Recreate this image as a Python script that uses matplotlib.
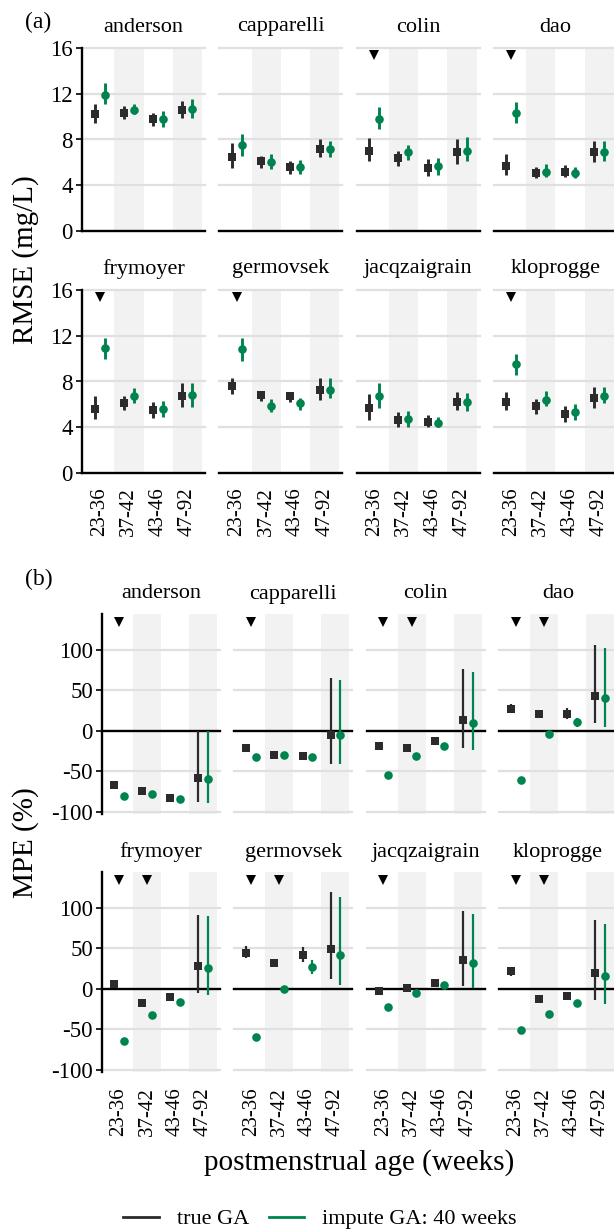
import matplotlib
matplotlib.use("Agg")
import matplotlib.pyplot as plt
from matplotlib.lines import Line2D
import numpy as np

plt.rcParams['font.family'] = ['Liberation Serif', 'DejaVu Serif']
plt.rcParams['axes.unicode_minus'] = False

# ---------------- data ----------------
models = ["anderson", "capparelli", "colin", "dao",
          "frymoyer", "germovsek", "jacqzaigrain", "kloprogge"]
age_groups = ["23-36", "37-42", "43-46", "47-92"]
series_labels = ["true GA", "impute GA: 40 weeks"]

# RMSE (mg/L) - true GA
rmse_true_est = [[10.2, 10.3, 9.8, 10.6], [6.5, 6.1, 5.6, 7.2], [7.0, 6.4, 5.5, 6.9], [5.7, 5.1, 5.2, 6.9],
                 [5.6, 6.1, 5.5, 6.7], [7.6, 6.8, 6.7, 7.3], [5.7, 4.6, 4.5, 6.2], [6.2, 5.9, 5.2, 6.6]]
rmse_true_lo = [[9.4, 9.8, 9.2, 9.9], [5.5, 5.5, 5.0, 6.5], [6.1, 5.7, 4.8, 5.9], [4.9, 4.6, 4.7, 6.0],
                [4.7, 5.5, 4.8, 5.8], [6.9, 6.3, 6.2, 6.4], [4.6, 4.0, 4.0, 5.5], [5.5, 5.2, 4.5, 5.7]]
rmse_true_hi = [[11.1, 10.9, 10.3, 11.4], [7.7, 6.6, 6.1, 8.0], [8.1, 7.0, 6.3, 8.0], [6.7, 5.6, 5.8, 7.9],
                [6.7, 6.7, 6.2, 7.9], [8.3, 7.2, 7.1, 8.3], [6.9, 5.3, 5.1, 7.1], [7.1, 6.5, 5.9, 7.5]]
# RMSE (mg/L) - impute GA
rmse_imp_est = [[11.9, 10.6, 9.8, 10.7], [7.5, 6.0, 5.6, 7.2], [9.8, 6.9, 5.7, 7.0], [10.3, 5.2, 5.1, 6.9],
                [10.9, 6.7, 5.6, 6.8], [10.8, 5.9, 6.1, 7.3], [6.7, 4.7, 4.4, 6.2], [9.5, 6.4, 5.3, 6.7]]
rmse_imp_lo = [[11.1, 10.2, 9.1, 9.9], [6.6, 5.4, 5.0, 6.5], [8.9, 6.2, 4.9, 6.1], [9.4, 4.7, 4.6, 6.1],
               [10.0, 6.1, 4.9, 5.8], [9.8, 5.3, 5.5, 6.6], [5.7, 4.0, 4.0, 5.4], [8.6, 5.9, 4.6, 6.1]]
rmse_imp_hi = [[12.9, 11.1, 10.5, 11.5], [8.5, 6.7, 6.2, 7.9], [10.8, 7.5, 6.4, 8.2], [11.3, 5.9, 5.6, 7.9],
               [11.8, 7.4, 6.3, 7.9], [11.8, 6.5, 6.6, 8.3], [7.9, 5.4, 4.9, 7.0], [10.4, 7.2, 6.0, 7.5]]
rmse_flag = [[0, 0, 0, 0], [0, 0, 0, 0], [1, 0, 0, 0], [1, 0, 0, 0],
             [1, 0, 0, 0], [1, 0, 0, 0], [0, 0, 0, 0], [1, 0, 0, 0]]

# MPE (%) - true GA
mpe_true_est = [[-66.8, -75.1, -83.3, -58.6], [-21.0, -29.7, -31.8, -5.0], [-19.0, -21.5, -13.2, 13.6],
                [27.2, 20.2, 21.0, 43.3], [5.4, -17.7, -10.3, 27.6], [44.6, 32.2, 41.3, 48.7],
                [-2.9, 0.8, 7.0, 35.0], [21.5, -12.4, -9.1, 19.4]]
mpe_true_lo = [[-69.0, -77.0, -85.0, -88.3], [-23.0, -31.5, -33.5, -40.8], [-21.0, -23.5, -15.0, -21.0],
               [21.9, 18.5, 14.0, 9.5], [3.5, -19.5, -12.0, -5.4], [38.0, 30.0, 33.0, 11.6],
               [-4.5, -1.0, 3.0, 3.3], [15.7, -14.0, -11.0, -14.4]]
mpe_true_hi = [[-64.5, -73.0, -81.5, 0.0], [-19.0, -28.0, -30.0, 65.2], [-17.0, -19.5, -11.5, 75.9],
               [33.4, 22.0, 28.0, 105.6], [7.5, -16.0, -8.5, 91.6], [52.4, 34.5, 51.6, 119.6],
               [-1.0, 2.5, 11.0, 95.7], [26.8, -10.5, -7.0, 85.4]]
# MPE (%) - impute GA
mpe_imp_est = [[-81.3, -78.0, -84.6, -59.4], [-33.0, -30.5, -32.3, -5.0], [-54.5, -31.8, -18.6, 9.5],
               [-60.6, -3.7, 10.7, 40.4], [-65.2, -32.2, -16.5, 26.0], [-59.8, 0.0, 26.8, 42.0],
               [-22.7, -5.4, 4.1, 32.2], [-51.6, -30.9, -17.7, 15.7]]
mpe_imp_lo = [[-83.0, -80.0, -86.5, -89.1], [-35.0, -32.0, -34.0, -41.7], [-56.5, -33.5, -20.5, -23.5],
              [-62.5, -5.5, 4.5, 4.5], [-67.0, -34.0, -18.5, -8.3], [-61.5, -1.5, 18.6, 4.1],
              [-24.5, -7.0, 2.5, 1.2], [-53.5, -32.5, -19.5, -19.4]]
mpe_imp_hi = [[-79.5, -76.0, -83.0, 0.0], [-31.0, -29.0, -30.5, 62.3], [-52.5, -30.0, -17.0, 72.6],
              [-58.5, -2.0, 15.7, 102.7], [-63.0, -30.5, -14.5, 90.3], [-58.0, 1.5, 35.0, 113.4],
              [-21.0, -3.5, 6.0, 92.0], [-50.0, -29.0, -16.0, 80.4]]
mpe_flag = [[1, 0, 0, 0], [1, 0, 0, 0], [1, 1, 0, 0], [1, 1, 0, 0],
            [1, 1, 0, 0], [1, 1, 0, 0], [1, 0, 0, 0], [1, 1, 0, 0]]

rmse_ticks = [0, 4, 8, 12, 16]
mpe_ticks = [-100, -50, 0, 50, 100]

# ---------------- styling ----------------
W, H = 614, 1230
fig = plt.figure(figsize=(W / 100, H / 100), dpi=100)

BLACK = "#2b2b2b"
GREEN = "#00844f"
BAND = "#f2f2f2"
GRID = "#e0e0e0"
FS = 16


def add_ax(left, top, width, height):
    return fig.add_axes([left / W, 1 - (top + height) / H, width / W, height / H])


def draw_panel(ax, name, idx, est_t, lo_t, hi_t, est_i, lo_i, hi_i, flags,
               ylim, yticks, tri_y, first_col, bottom_row, lw, title_off, h_px, xpad):
    x = np.arange(1, len(age_groups) + 1)
    ax.set_xlim(0.4, 4.6)
    ax.set_ylim(*ylim)
    ax.set_facecolor("white")
    for k in (2, 4):
        ax.axvspan(k - 0.5, k + 0.5, color=BAND, zorder=0, lw=0)
    for t in yticks:
        if t != 0:
            ax.axhline(t, color=GRID, lw=1.6, zorder=0.5, clip_on=False)
    ax.axhline(0, color="black", lw=1.7, zorder=1, clip_on=False)
    off = 0.17
    ax.vlines(x - off, lo_t[idx], hi_t[idx], color=BLACK, lw=lw, zorder=3)
    ax.vlines(x + off, lo_i[idx], hi_i[idx], color=GREEN, lw=lw, zorder=3)
    ax.plot(x - off, est_t[idx], "s", ms=5.8, color=BLACK, mew=0, zorder=4)
    ax.plot(x + off, est_i[idx], "o", ms=6.2, color=GREEN, mew=0, zorder=4)
    fl = np.array(flags[idx], dtype=bool)
    if fl.any():
        ax.plot(x[fl], [tri_y] * int(fl.sum()), "v", ms=6.5, color="black", mew=0, zorder=4)
    for s in ax.spines.values():
        s.set_visible(False)
    ax.set_yticks(yticks)
    if first_col:
        ax.spines["left"].set_visible(True)
        ax.spines["left"].set_linewidth(1.7)
        ax.spines["left"].set_color("black")
        ax.set_yticklabels([str(t) for t in yticks])
        ax.tick_params(axis="y", length=4.5, width=1.2, color="black", labelsize=16.5, pad=2)
    else:
        ax.tick_params(axis="y", left=False, labelleft=False)
    ax.set_xticks(x)
    if bottom_row:
        ax.set_xticklabels(age_groups, rotation=90, fontsize=15)
        ax.tick_params(axis="x", length=0, pad=xpad)
    else:
        ax.tick_params(axis="x", length=0, labelbottom=False)
    ax.text(0.5, 1 + title_off / h_px, name, transform=ax.transAxes,
            ha="center", va="center", fontsize=FS)


# ---- panel (a) ----
a_lefts = [82, 219.3, 356.6, 493.9]
a_w = 123
a_tops = [48, 290]
a_h = 183
for r in range(2):
    for c in range(4):
        idx = r * 4 + c
        ax = add_ax(a_lefts[c], a_tops[r], a_w, a_h)
        draw_panel(ax, models[idx], idx, rmse_true_est, rmse_true_lo, rmse_true_hi,
                   rmse_imp_est, rmse_imp_lo, rmse_imp_hi, rmse_flag,
                   (0, 16), rmse_ticks, 15.4, c == 0, r == 1, 2.1,
                   21, a_h, 10)

# ---- panel (b) ----
b_lefts = [102, 234.3, 366.6, 498.9]
b_w = 118
b_tops = [614, 872]
b_h = 200
for r in range(2):
    for c in range(4):
        idx = r * 4 + c
        ax = add_ax(b_lefts[c], b_tops[r], b_w, b_h)
        draw_panel(ax, models[idx], idx, mpe_true_est, mpe_true_lo, mpe_true_hi,
                   mpe_imp_est, mpe_imp_lo, mpe_imp_hi, mpe_flag,
                   (-103, 144.5), mpe_ticks, 134, c == 0, r == 1, 1.6,
                   20, b_h, 11)

# ---- annotations ----
def ftext(xp, yp, s, **kw):
    fig.text(xp / W, 1 - yp / H, s, **kw)

ftext(38, 22, "(a)", ha="center", va="center", fontsize=17)
ftext(39, 579, "(b)", ha="center", va="center", fontsize=17)
ftext(26, 260, "RMSE (mg/L)", ha="center", va="center", rotation=90, fontsize=21)
ftext(26, 843, "MPE (%)", ha="center", va="center", rotation=90, fontsize=21)
ftext(359, 1163, "postmenstrual age (weeks)", ha="center", va="center", fontsize=21)

handles = [Line2D([0], [0], color=BLACK, lw=2),
           Line2D([0], [0], color=GREEN, lw=2)]
fig.legend(handles, series_labels, loc="center", bbox_to_anchor=(320 / W, 1 - 1219 / H),
           ncol=2, frameon=False, fontsize=FS, handlelength=1.6, handletextpad=0.8,
           columnspacing=0.9)

fig.savefig("out.png", dpi=100)
